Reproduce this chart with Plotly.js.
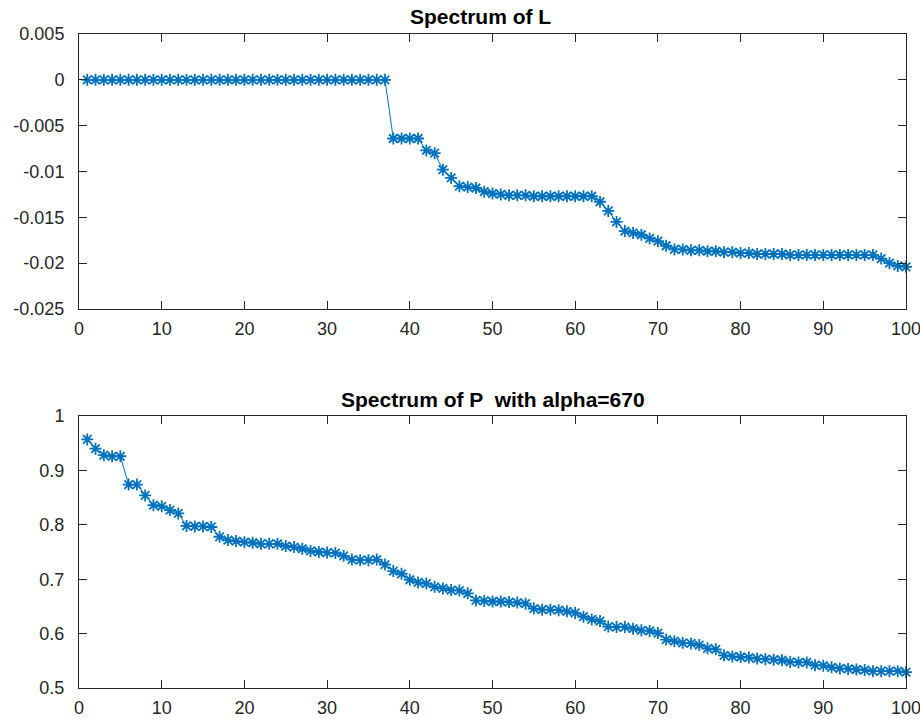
<!DOCTYPE html>
<html>
<head>
<meta charset="utf-8">
<script src="https://cdn.plot.ly/plotly-3.0.1.min.js"></script>
<style>
html, body { margin: 0; padding: 0; background: #ffffff; }
#chart { width: 920px; height: 721px; }
</style>
</head>
<body>
<div id="chart"></div>
<script>
// Eigenvalues of L (index 1..100)
const spectrumL = [
  0, 0, 0, 0, 0, 0, 0, 0, 0, 0,
  0, 0, 0, 0, 0, 0, 0, 0, 0, 0,
  0, 0, 0, 0, 0, 0, 0, 0, 0, 0,
  0, 0, 0, 0, 0, 0, 0,
  -0.0064, -0.0064, -0.0064, -0.0064,
  -0.0077, -0.0080,
  -0.0098, -0.0107, -0.0116, -0.0117, -0.0118, -0.0122, -0.0124, -0.0125,
  -0.0126, -0.0126, -0.0126, -0.0127, -0.0127, -0.0127, -0.0127, -0.0127, -0.0127, -0.0127, -0.0127,
  -0.0133, -0.0143, -0.0155, -0.0165, -0.0167, -0.0169, -0.0173, -0.0176, -0.0181, -0.0185,
  -0.0185, -0.0186, -0.0186, -0.0187, -0.0187, -0.0188, -0.0188, -0.0189, -0.0189, -0.0190,
  -0.0190, -0.0190, -0.0190,
  -0.0191, -0.0191, -0.0191, -0.0191, -0.0191, -0.0191, -0.0191, -0.0191, -0.0191, -0.0191, -0.0191,
  -0.0195, -0.0200, -0.0203, -0.0204
];

// Eigenvalues of P with alpha = 670 (index 1..100)
const spectrumP = [
  0.957, 0.940, 0.928, 0.926, 0.926, 0.874, 0.874, 0.854, 0.836, 0.834,
  0.827, 0.821, 0.798, 0.797, 0.797, 0.796, 0.778, 0.772, 0.770, 0.768,
  0.767, 0.765, 0.765, 0.765, 0.761, 0.759, 0.756, 0.752, 0.750, 0.749,
  0.748, 0.743, 0.736, 0.735, 0.735, 0.736, 0.727, 0.715, 0.710, 0.699,
  0.694, 0.692, 0.686, 0.683, 0.680, 0.679, 0.674, 0.661, 0.660, 0.659,
  0.659, 0.658, 0.657, 0.655, 0.646, 0.644, 0.644, 0.643, 0.641, 0.638,
  0.631, 0.626, 0.623, 0.613, 0.612, 0.612, 0.609, 0.606, 0.605, 0.601,
  0.589, 0.586, 0.583, 0.582, 0.579, 0.573, 0.571, 0.560, 0.558, 0.557,
  0.556, 0.554, 0.553, 0.552, 0.551, 0.548, 0.547, 0.547, 0.542, 0.541,
  0.538, 0.536, 0.535, 0.534, 0.533, 0.531, 0.531, 0.531, 0.531, 0.529
];

const titleL = "Spectrum of L";
const titleP = "Spectrum of P  with alpha=670";

const xTickVals = [0, 10, 20, 30, 40, 50, 60, 70, 80, 90, 100];
const xTickText = ["0", "10", "20", "30", "40", "50", "60", "70", "80", "90", "100"];
const yLTickVals = [0.005, 0, -0.005, -0.01, -0.015, -0.02, -0.025];
const yLTickText = ["0.005", "0", "-0.005", "-0.01", "-0.015", "-0.02", "-0.025"];
const yPTickVals = [1, 0.9, 0.8, 0.7, 0.6, 0.5];
const yPTickText = ["1", "0.9", "0.8", "0.7", "0.6", "0.5"];

const idxL = spectrumL.map((_, i) => i + 1);
const idxP = spectrumP.map((_, i) => i + 1);

const blue = "#0072BD";
const axisColor = "#262626";
const tickFont = { family: "Liberation Sans, Arial, sans-serif", size: 18, color: axisColor };
const titleFont = { family: "Liberation Sans, Arial, sans-serif", size: 21, color: "#000000" };

function traceOf(x, y, xa, ya) {
  return {
    x: x, y: y, xaxis: xa, yaxis: ya,
    type: "scatter", mode: "lines+markers",
    line: { color: blue, width: 1 },
    marker: { symbol: "asterisk-open", size: 10, color: blue, line: { color: blue, width: 1.8 } },
    hoverinfo: "x+y", showlegend: false, cliponaxis: false
  };
}

function axisBase(extra) {
  return Object.assign({
    showline: true, linecolor: axisColor, linewidth: 1, mirror: "ticks",
    ticks: "inside", ticklen: 8, tickwidth: 1, tickcolor: axisColor,
    showgrid: false, zeroline: false, tickmode: "array",
    tickfont: tickFont, ticklabeloverflow: "allow"
  }, extra);
}

const layout = {
  width: 920, height: 721,
  paper_bgcolor: "#ffffff", plot_bgcolor: "#ffffff",
  margin: { l: 79, r: 14, t: 34, b: 33 },
  showlegend: false,
  xaxis: axisBase({ domain: [0, 1], range: [0, 100], anchor: "y", tickvals: xTickVals, ticktext: xTickText, ticklabelstandoff: 3 }),
  yaxis: axisBase({ domain: [0.5795, 1], range: [-0.025, 0.005], anchor: "x", tickvals: yLTickVals, ticktext: yLTickText, ticklabelstandoff: 10 }),
  xaxis2: axisBase({ domain: [0, 1], range: [0, 100], anchor: "y2", tickvals: xTickVals, ticktext: xTickText, ticklabelstandoff: 3 }),
  yaxis2: axisBase({ domain: [0, 0.4159], range: [0.5, 1], anchor: "x2", tickvals: yPTickVals, ticktext: yPTickText, ticklabelstandoff: 10 }),
  annotations: [
    { text: "<b>" + titleL + "</b>", xref: "paper", yref: "paper", x: 0.486, y: 1.026,
      xanchor: "center", yanchor: "middle", showarrow: false, font: titleFont },
    { text: "<b>" + titleP + "</b>", xref: "paper", yref: "paper", x: 0.5, y: 0.4404,
      xanchor: "center", yanchor: "middle", showarrow: false, font: titleFont }
  ]
};

Plotly.newPlot("chart", [
  traceOf(idxL, spectrumL, "x", "y"),
  traceOf(idxP, spectrumP, "x2", "y2")
], layout, { displayModeBar: false, staticPlot: true });
</script>
</body>
</html>
